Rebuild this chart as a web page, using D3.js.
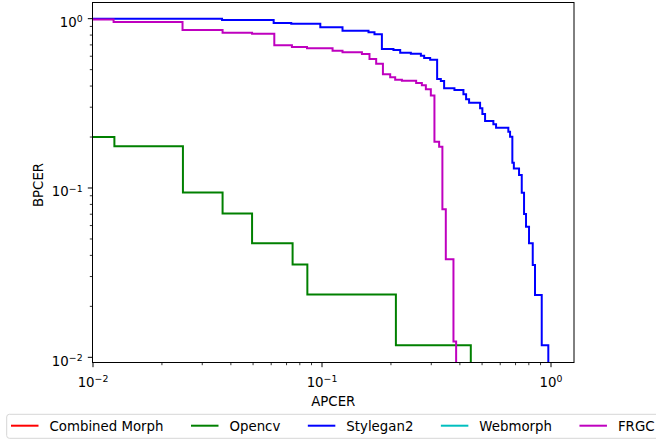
<!DOCTYPE html>
<html><head><meta charset="utf-8">
<script src="https://cdn.jsdelivr.net/npm/d3@7"></script>
<style>body{margin:0;background:#fff;} svg text{font-family:"DejaVu Sans";fill:#000;}</style>
</head><body><svg id="c" width="656" height="441"></svg>
<script>
const seriesNames = ["Combined Morph", "Opencv", "Stylegan2", "Webmorph", "FRGC"];
const seriesColors = ["#ff0000", "#008000", "#0000ff", "#00bfbf", "#bf00bf"];

const combinedMorphAPCER = [];
const combinedMorphBPCER = [];
const opencvAPCER = [0.01, 0.0124, 0.0247, 0.0368, 0.0495, 0.0744, 0.0863, 0.2102, 0.4464];
const opencvBPCER = [0.2, 0.1765, 0.0941, 0.0706, 0.0471, 0.0353, 0.0235, 0.0118, 0];
const stylegan2APCER = [0.01, 0.0366, 0.0615, 0.0734, 0.0983, 0.1229, 0.1596, 0.1695, 0.1826, 0.2051, 0.2195, 0.2443, 0.2702, 0.2793, 0.2967, 0.3182, 0.3303, 0.3414, 0.3787, 0.4145, 0.4258, 0.4388, 0.4901, 0.5015, 0.5153, 0.5601, 0.5755, 0.6511, 0.6625, 0.6779, 0.6882, 0.7251, 0.7451, 0.7625, 0.7779, 0.8017, 0.8322, 0.8515, 0.9109, 0.9732];
const stylegan2BPCER = [1.0, 0.9825, 0.943, 0.9343, 0.8896, 0.8492, 0.8311, 0.809, 0.6622, 0.6533, 0.6298, 0.6213, 0.6046, 0.5859, 0.5726, 0.4404, 0.4286, 0.388, 0.3791, 0.3576, 0.3342, 0.3189, 0.2956, 0.2735, 0.2487, 0.2378, 0.2271, 0.215, 0.2009, 0.1411, 0.1303, 0.1193, 0.0938, 0.0702, 0.0591, 0.0471, 0.0351, 0.0233, 0.0118, 0];
const webmorphAPCER = [];
const webmorphBPCER = [];
const frgcAPCER = [0.01, 0.0123, 0.0246, 0.0368, 0.0495, 0.0619, 0.0739, 0.086, 0.1112, 0.1229, 0.1494, 0.1612, 0.1724, 0.1845, 0.1985, 0.2087, 0.2233, 0.2577, 0.2729, 0.2841, 0.2987, 0.3097, 0.3247, 0.3355, 0.3472, 0.375, 0.3852];
const frgcBPCER = [0.99, 0.956, 0.8577, 0.8266, 0.8156, 0.6966, 0.6806, 0.6687, 0.6471, 0.6332, 0.6187, 0.5781, 0.5423, 0.4694, 0.4506, 0.4361, 0.4302, 0.417, 0.4042, 0.3833, 0.3518, 0.1877, 0.1754, 0.0748, 0.0379, 0.0124, 0];

const xTickValues = [0.01, 0.1, 1];
const xTickExponents = ["\u22122", "\u22121", "0"];
const yTickValues = [0.01, 0.1, 1];
const yTickExponents = ["\u22122", "\u22121", "0"];
const xLabel = "APCER";
const yLabel = "BPCER";

const seriesX = [combinedMorphAPCER, opencvAPCER, stylegan2APCER, webmorphAPCER, frgcAPCER];
const seriesY = [combinedMorphBPCER, opencvBPCER, stylegan2BPCER, webmorphBPCER, frgcBPCER];

const L = 92.5, R = 574, T = 2.5, B = 362.5;
const FS = 13.33;
const svg = d3.select("#c");

const x = d3.scaleLog().domain([0.00995, 1.26]).range([L, R]);
const y = d3.scaleLog().domain([0.00932, 1.246]).range([B, T]);
const yPos = v => v > 0 ? y(v) : B + 20;

svg.append("defs").append("clipPath").attr("id", "clip")
  .append("rect").attr("x", L).attr("y", T).attr("width", R - L).attr("height", B - T);

const plot = svg.append("g").attr("clip-path", "url(#clip)");
const line = d3.line().curve(d3.curveStepAfter).x(d => x(d[0])).y(d => yPos(d[1]));
seriesNames.forEach((n, i) => {
  const pts = seriesX[i].map((v, j) => [v, seriesY[i][j]]);
  if (!pts.length) return;
  plot.append("path").attr("d", line(pts)).attr("fill", "none")
    .attr("stroke", seriesColors[i]).attr("stroke-width", 2).attr("stroke-linejoin", "miter").attr("stroke-linecap", "butt");
});

// minor ticks
function minors(scale) {
  const [a, b] = scale.domain();
  const out = [];
  for (let e = Math.floor(Math.log10(a)); e <= Math.ceil(Math.log10(b)); e++) {
    for (let k = 2; k <= 9; k++) { const v = k * Math.pow(10, e); if (v >= a && v <= b) out.push(v); }
  }
  return out;
}
const ax = svg.append("g");
minors(x).forEach(v => ax.append("line").attr("x1", x(v)).attr("x2", x(v)).attr("y1", B).attr("y2", B + 2.7).attr("stroke", "#000").attr("stroke-width", 0.8));
minors(y).forEach(v => ax.append("line").attr("y1", y(v)).attr("y2", y(v)).attr("x1", L).attr("x2", L - 2.7).attr("stroke", "#000").attr("stroke-width", 0.8));
xTickValues.forEach((v, i) => {
  ax.append("line").attr("x1", x(v)).attr("x2", x(v)).attr("y1", B).attr("y2", B + 4.7).attr("stroke", "#000").attr("stroke-width", 1);
  const t = ax.append("text").attr("x", x(v)).attr("y", 386.5).attr("text-anchor", "middle").style("font-size", FS + "px");
  t.append("tspan").text("10");
  t.append("tspan").attr("dy", -4.6).style("font-size", (FS * 0.7) + "px").text(xTickExponents[i]);
});
yTickValues.forEach((v, i) => {
  ax.append("line").attr("y1", y(v)).attr("y2", y(v)).attr("x1", L).attr("x2", L - 4.7).attr("stroke", "#000").attr("stroke-width", 1);
  const t = ax.append("text").attr("x", 82.6).attr("y", y(v) + 8.3).attr("text-anchor", "end").style("font-size", FS + "px");
  t.append("tspan").text("10");
  t.append("tspan").attr("dy", -4.6).style("font-size", (FS * 0.7) + "px").text(yTickExponents[i]);
});
svg.append("rect").attr("x", L).attr("y", T).attr("width", R - L).attr("height", B - T)
  .attr("fill", "none").attr("stroke", "#000").attr("stroke-width", 1);

svg.append("text").attr("x", (L + R) / 2).attr("y", 406).attr("text-anchor", "middle").style("font-size", FS + "px").text(xLabel);
svg.append("text").attr("transform", "translate(42.5,185) rotate(-90)").attr("text-anchor", "middle").style("font-size", FS + "px").text(yLabel);

// legend
const lg = svg.append("g");
const box = lg.append("rect").attr("x", 6.7).attr("y", 414.3).attr("height", 24).attr("rx", 2.7)
  .attr("fill", "#fff").attr("fill-opacity", 0.8).attr("stroke", "#d6d6d6").attr("stroke-width", 1);
let cx = 11;
const ly = 425.7;
seriesNames.forEach((n, i) => {
  lg.append("line").attr("x1", cx).attr("x2", cx + 27.5).attr("y1", ly).attr("y2", ly).attr("stroke", seriesColors[i]).attr("stroke-width", 2);
  cx += 27.5 + 11;
  const t = lg.append("text").attr("x", cx).attr("y", ly + 5).style("font-size", FS + "px").text(n);
  cx += t.node().getComputedTextLength() + 27.5;
});
box.attr("width", cx - 27.5 + 5 - 6.7);
</script></body></html>
